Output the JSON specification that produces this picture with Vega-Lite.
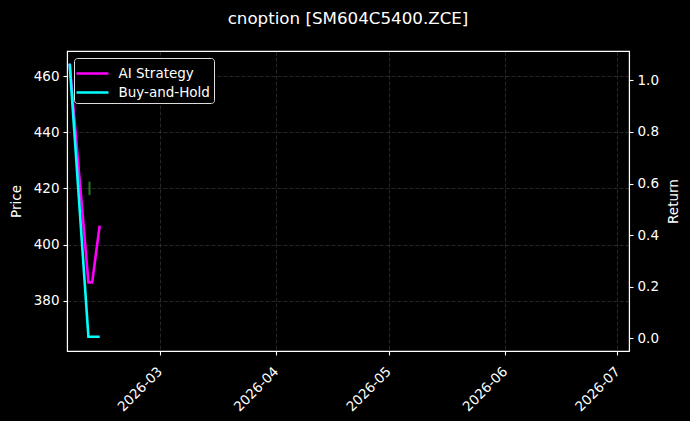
{
  "$schema": "https://vega.github.io/schema/vega-lite/v6.json",
  "width": 562,
  "height": 300,
  "autosize": "none",
  "padding": {"left": 67, "top": 51, "right": 61, "bottom": 70},
  "background": "black",
  "title": {"text": "cnoption [SM604C5400.ZCE]", "anchor": "middle", "offset": 10, "baseline": "alphabetic"},
  "datasets": {
    "signal": [
      {"date": "2026-02-10T07:00:00Z", "low": 417.6, "high": 422.4}
    ],
    "curves": [
      {"date": "2026-02-05T00:00:00Z", "series": "AI Strategy", "value": 1.065},
      {"date": "2026-02-10T00:00:00Z", "series": "AI Strategy", "value": 0.217},
      {"date": "2026-02-11T00:00:00Z", "series": "AI Strategy", "value": 0.217},
      {"date": "2026-02-13T00:00:00Z", "series": "AI Strategy", "value": 0.437},
      {"date": "2026-02-05T00:00:00Z", "series": "Buy-and-Hold", "value": 1.065},
      {"date": "2026-02-10T00:00:00Z", "series": "Buy-and-Hold", "value": 0.006},
      {"date": "2026-02-13T00:00:00Z", "series": "Buy-and-Hold", "value": 0.006}
    ]
  },
  "resolve": {"scale": {"y": "independent"}},
  "layer": [
    {
      "data": {"name": "signal"},
      "mark": {"type": "rule", "color": "#2ca02c", "strokeWidth": 2, "opacity": 0.75},
      "encoding": {
        "x": {"field": "date", "type": "temporal"},
        "y": {
          "field": "low", "type": "quantitative", "title": "Price",
          "scale": {"domain": [362.1, 468.9], "nice": false, "zero": false},
          "axis": {"orient": "left", "values": [380, 400, 420, 440, 460], "titlePadding": 10}
        },
        "y2": {"field": "high"}
      }
    },
    {
      "data": {"name": "curves"},
      "mark": {"type": "line", "strokeWidth": 2.6},
      "encoding": {
        "x": {
          "field": "date", "type": "temporal", "title": null,
          "scale": {
            "type": "utc",
            "domain": [
              {"year": 2026, "month": 2, "date": 4, "hours": 7, "utc": true},
              {"year": 2026, "month": 7, "date": 4, "hours": 2, "utc": true}
            ]
          },
          "axis": {
            "format": "%Y-%m",
            "values": [
              {"year": 2026, "month": 3, "date": 1, "utc": true},
              {"year": 2026, "month": 4, "date": 1, "utc": true},
              {"year": 2026, "month": 5, "date": 1, "utc": true},
              {"year": 2026, "month": 6, "date": 1, "utc": true},
              {"year": 2026, "month": 7, "date": 1, "utc": true}
            ],
            "labelAngle": -45, "labelAlign": "right", "labelBaseline": "middle",
            "labelPadding": 14
          }
        },
        "y": {
          "field": "value", "type": "quantitative", "title": "Return",
          "scale": {"domain": [-0.049, 1.114], "nice": false, "zero": false},
          "axis": {"orient": "right", "values": [0, 0.2, 0.4, 0.6, 0.8, 1.0], "format": ".1f", "titleAngle": 270, "titlePadding": 22}
        },
        "color": {
          "field": "series", "type": "nominal",
          "scale": {"domain": ["AI Strategy", "Buy-and-Hold"], "range": ["#ff00ff", "#00ffff"]},
          "legend": {"title": null, "orient": "top-left"}
        }
      }
    }
  ],
  "config": {
    "font": "DejaVu Sans",
    "view": {"stroke": "white", "strokeWidth": 1.1},
    "title": {"font": "DejaVu Sans", "fontSize": 16.7, "fontWeight": "normal", "color": "white"},
    "axis": {
      "labelFont": "DejaVu Sans", "labelFontSize": 13.5, "labelColor": "white",
      "titleFont": "DejaVu Sans", "titleFontSize": 13.5, "titleFontWeight": "normal", "titleColor": "white",
      "domainColor": "white", "domainWidth": 1.1,
      "tickColor": "white", "tickSize": 4, "tickWidth": 1.1,
      "grid": true, "gridColor": "#8a8a8a", "gridOpacity": 0.4, "gridDash": [4, 2], "gridWidth": 0.7,
      "labelPadding": 4
    },
    "legend": {
      "labelFont": "DejaVu Sans", "labelFontSize": 13.5, "labelColor": "white",
      "symbolType": "M-1.6,0H1.6", "symbolSize": 400, "symbolStrokeWidth": 2.6,
      "symbolOffset": 3,
      "strokeColor": "#dddddd", "fillColor": "black", "cornerRadius": 3,
      "padding": 4, "offset": 6.5, "labelOffset": 14.5, "rowPadding": 1
    }
  }
}
